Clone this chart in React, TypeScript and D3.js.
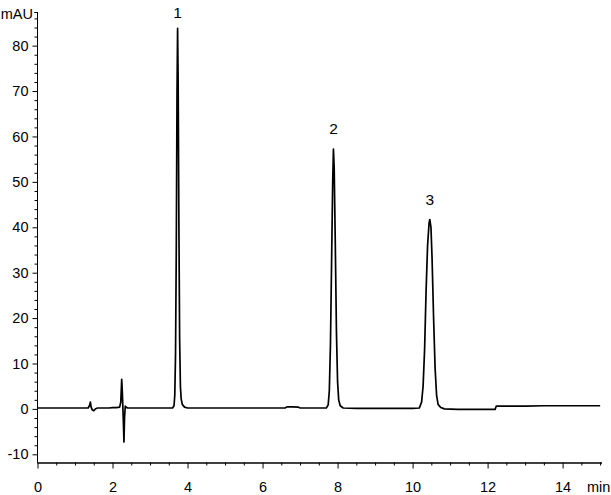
import React, { useEffect, useRef } from 'react';
import * as d3 from 'd3';

// chromatogram trace: [time (min), signal (mAU)]
const trace: [number, number][] = [
  [0, 0.2], [0.5, 0.2], [1.0, 0.2], [1.35, 0.2], [1.39, 0.8], [1.41, 1.5], [1.43, 0.4],
  [1.46, -0.2], [1.5, -0.4], [1.54, 0.0], [1.6, 0.2], [1.9, 0.2], [2.0, 0.3], [2.1, 0.3],
  [2.19, 0.4], [2.22, 1.5], [2.245, 6.5], [2.26, 4.0], [2.275, 0.5], [2.29, -3.0],
  [2.305, -7.3], [2.32, -2.0], [2.34, 0.6], [2.36, 0.4], [2.4, 0.2], [2.6, 0.2],
  [3.0, 0.2], [3.4, 0.2], [3.6, 0.2], [3.64, 0.7], [3.66, 3], [3.68, 12], [3.7, 35],
  [3.72, 70], [3.735, 83.8], [3.75, 72], [3.77, 40], [3.79, 15], [3.81, 5], [3.83, 2.2],
  [3.86, 1.0], [3.92, 0.4], [4.0, 0.2], [4.5, 0.2], [5.0, 0.2], [5.5, 0.2], [6.0, 0.2],
  [6.6, 0.2], [6.65, 0.45], [6.8, 0.45], [6.95, 0.4], [7.0, 0.2], [7.4, 0.2], [7.7, 0.2],
  [7.75, 0.9], [7.78, 4], [7.81, 14], [7.84, 32], [7.87, 50], [7.89, 57.2], [7.91, 53],
  [7.94, 36], [7.97, 17], [8.0, 6], [8.03, 2], [8.07, 0.7], [8.15, 0.2], [8.5, 0.1],
  [9.0, 0.1], [9.5, 0.1], [10.0, 0.1], [10.18, 0.2], [10.24, 1.5], [10.28, 5], [10.32, 13],
  [10.36, 26], [10.4, 36], [10.44, 41], [10.46, 41.7], [10.49, 40], [10.52, 33],
  [10.56, 20], [10.6, 9], [10.64, 3], [10.68, 1], [10.75, 0.3], [10.85, 0.0],
  [11.2, -0.1], [11.6, -0.1], [12.0, -0.1], [12.2, -0.1], [12.23, 0.6], [12.6, 0.6],
  [13.0, 0.6], [13.5, 0.7], [14.0, 0.7], [14.5, 0.7], [15.0, 0.7]
];

const peakLabels = ['1', '2', '3'];
const peakTimes = [3.735, 7.89, 10.46];
const peakHeights = [83.8, 57.2, 41.7];

const xMajor = [0, 2, 4, 6, 8, 10, 12, 14];
const yMajor = [-10, 0, 10, 20, 30, 40, 50, 60, 70, 80];

const W = 611;
const H = 495;

const App: React.FC = () => {
  const svgRef = useRef<SVGSVGElement>(null);

  useEffect(() => {
    document.body.style.margin = '0';
    if (!svgRef.current) return;
    const svg = d3.select(svgRef.current);
    svg.selectAll('*').remove();

    const font = '"Liberation Sans", Arial, sans-serif';
    const x = d3.scaleLinear().domain([0, 15.05]).range([37.5, 602]);
    const y = d3.scaleLinear().domain([-11.8, 87.3]).range([462.5, 12.5]);

    const xMinor = d3.range(0, 15.01, 0.5).filter(v => !xMajor.includes(v));
    const yMinor = d3.range(-10, 87, 2).filter(v => !yMajor.includes(v));

    // x axis
    const gx = svg.append('g').attr('transform', `translate(0,${y.range()[0]})`);
    gx.call(d3.axisBottom(x).tickValues(xMajor).tickSize(6).tickSizeOuter(0).tickPadding(13)
      .tickFormat(d => String(d)));
    gx.append('g').call(d3.axisBottom(x).tickValues(xMinor).tickSize(3).tickSizeOuter(0)
      .tickFormat(() => ''));
    gx.selectAll('.domain').attr('d', `M${x.range()[0]},0.5H${x.range()[1]}`);

    // y axis
    const gy = svg.append('g').attr('transform', `translate(${x.range()[0]},0)`);
    gy.call(d3.axisLeft(y).tickValues(yMajor).tickSize(5).tickSizeOuter(0).tickPadding(4)
      .tickFormat(d => String(d)));
    gy.append('g').call(d3.axisLeft(y).tickValues(yMinor).tickSize(3).tickSizeOuter(0)
      .tickFormat(() => ''));
    gy.selectAll('.domain').attr('d', `M-3,${y.range()[1]}H0V${y.range()[0]}`);

    svg.selectAll('.tick text')
      .attr('font-family', font)
      .attr('font-size', 14.5)
      .attr('fill', '#000');
    svg.selectAll('path.domain, .tick line').attr('stroke', '#000');

    svg.append('text')
      .attr('x', 33).attr('y', 19)
      .attr('text-anchor', 'end')
      .attr('font-family', font).attr('font-size', 14.5)
      .text('mAU');
    svg.append('text')
      .attr('x', 587).attr('y', 492)
      .attr('font-family', font).attr('font-size', 14.5)
      .text('min');

    const line = d3.line<[number, number]>()
      .x(d => x(d[0]))
      .y(d => y(d[1]));

    svg.append('path')
      .datum(trace)
      .attr('fill', 'none')
      .attr('stroke', '#000')
      .attr('stroke-width', 1.7)
      .attr('stroke-linejoin', 'round')
      .attr('d', line);

    // peak numbers sit ~15px above the apex, but not above the top of the plot
    peakLabels.forEach((lab, i) => {
      svg.append('text')
        .attr('x', x(peakTimes[i]))
        .attr('y', Math.max(y(peakHeights[i]) - 15, 18))
        .attr('text-anchor', 'middle')
        .attr('font-family', font).attr('font-size', 15.5)
        .text(lab);
    });
  }, []);

  return <svg ref={svgRef} width={W} height={H} style={{ display: 'block', background: '#fff' }} />;
};

export default App;
